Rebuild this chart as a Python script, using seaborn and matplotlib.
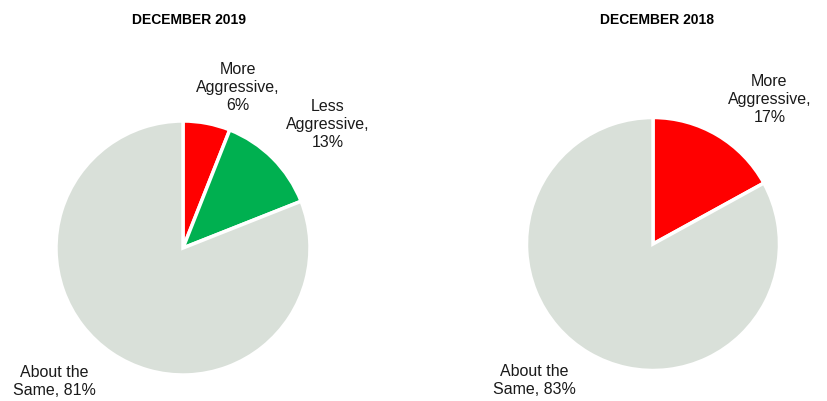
import matplotlib
matplotlib.use("Agg")
import matplotlib.pyplot as plt
import seaborn as sns

# Survey responses: share of respondents by expected stance
titles = ["DECEMBER 2019", "DECEMBER 2018"]
cats_2019 = ["More\nAggressive", "Less\nAggressive", "About the\nSame"]
vals_2019 = [6, 13, 81]
cats_2018 = ["More\nAggressive", "About the\nSame"]
vals_2018 = [17, 83]

palette = {"More\nAggressive": "#FF0000",
           "Less\nAggressive": "#00B050",
           "About the\nSame": "#D9E0D9"}

sns.set_theme(style="white")
plt.rcParams["font.family"] = ["Liberation Sans", "DejaVu Sans"]

W, H = 827, 401
fig = plt.figure(figsize=(W / 100, H / 100), dpi=100)

# pie centres and radii in pixels, plus label anchor points in axis units
layouts = [
    dict(cx=183, cy=248, r=127, title_x=189,
         label_pos=[(0.43, 1.26), (1.14, 0.97), (-1.01, -1.05)]),
    dict(cx=653, cy=244, r=126.5, title_x=657,
         label_pos=[(0.92, 1.14), (-0.94, -1.08)]),
]

for cats, vals, title, lay in zip([cats_2019, cats_2018], [vals_2019, vals_2018],
                                  titles, layouts):
    cx, cy, r = lay["cx"], lay["cy"], lay["r"]
    ax = fig.add_axes([(cx - r) / W, (H - cy - r) / H, 2 * r / W, 2 * r / H])
    ax.pie(vals, colors=[palette[c] for c in cats], startangle=90,
           counterclock=False, radius=1,
           wedgeprops=dict(edgecolor="white", linewidth=2.5))
    ax.set_xlim(-1, 1)
    ax.set_ylim(-1, 1)
    ax.set_aspect("equal")
    ax.axis("off")
    for c, v, (lx, ly) in zip(cats, vals, lay["label_pos"]):
        if c.startswith("About"):
            text = f"About the\nSame, {v}%"
        else:
            text = f"{c},\n{v}%"
        ax.text(lx, ly, text, ha="center", va="center", fontsize=11.5,
                color="#1a1a1a", linespacing=1.25, clip_on=False)
    fig.text(lay["title_x"] / W, 1 - 20 / H, title, ha="center", va="center",
             fontsize=10, fontweight="bold", color="black")

fig.savefig("out.png", dpi=100, facecolor="white")
